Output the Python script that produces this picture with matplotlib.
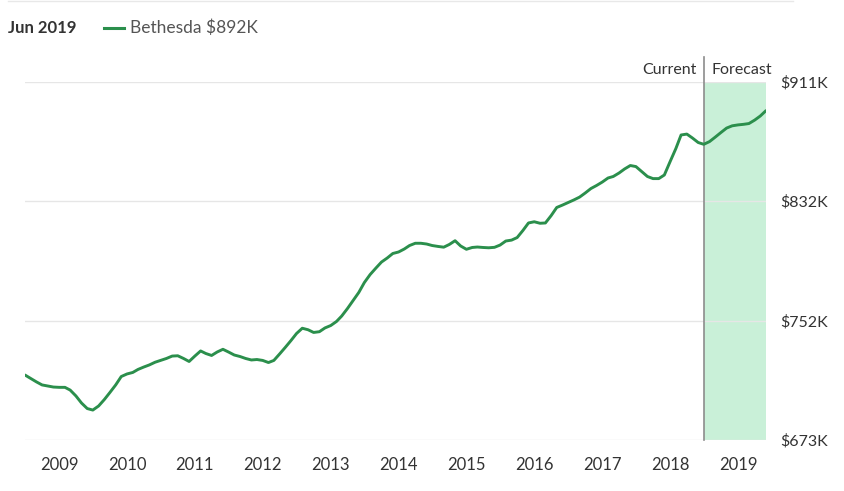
import matplotlib.pyplot as plt
import pandas as pd

# monthly home value index, Bethesda, Jul 2008 - Jun 2019 ($K)
values = [
    716.2, 713.9, 711.6, 709.6, 708.9, 708.2, 708.0, 708.0, 706.2, 702.3, 697.6, 693.9,
    692.9, 695.6, 699.9, 704.6, 709.6, 715.2, 716.9, 717.9, 719.9, 721.5, 722.9, 724.7,
    725.9, 727.2, 728.8, 729.0, 727.2, 725.2, 728.8, 732.2, 730.5, 729.2, 731.5, 733.3,
    731.5, 729.5, 728.5, 727.2, 726.2, 726.5, 725.9, 724.5, 725.9, 730.2, 734.5, 739.1,
    743.8, 747.3, 746.3, 744.5, 745.0, 747.5, 749.1, 751.8, 755.4, 760.4, 765.7, 771.1,
    777.7, 783.0, 787.3, 791.3, 794.0, 797.0, 798.0, 800.0, 802.3, 803.8, 803.8, 803.3,
    802.3, 801.7, 801.2, 803.0, 805.5, 802.0, 799.8, 801.0, 801.3, 801.0, 800.8, 801.1,
    802.6, 805.3, 805.9, 807.6, 812.3, 817.3, 818.1, 817.1, 817.3, 822.2, 827.6, 829.2,
    830.9, 832.6, 834.5, 837.2, 840.2, 842.2, 844.5, 847.2, 848.2, 850.5, 853.2, 855.5,
    854.8, 851.5, 848.2, 846.8, 846.8, 849.2, 858.1, 866.8, 875.8, 876.4, 873.8, 870.8,
    869.6, 871.4, 874.4, 877.4, 880.4, 881.9, 882.5, 882.9, 883.4, 885.7, 888.4, 892.0,
]
dates = pd.date_range("2008-07-01", periods=len(values), freq="MS")
current_date = pd.Timestamp("2018-07-01")
y_ticks = [673, 752, 832, 911]
y_labels = ["$673K", "$752K", "$832K", "$911K"]
years = list(range(2009, 2020))

line_green = "#2b8f4c"
fill_green = "#c9f0d8"
text_dark = "#333333"
font = ["Lato", "DejaVu Sans"]

fig = plt.figure(figsize=(8.44, 4.91), dpi=100)
ax = fig.add_axes([0.0296, 0.1039, 0.878, 0.729])

ax.axvspan(current_date, dates[-1], color=fill_green, lw=0, zorder=0)
for yt in y_ticks:
    ax.axhline(yt, color="#e6e6e6", lw=1, zorder=1)
ax.plot(dates, values, color=line_green, lw=2.1, zorder=3, solid_capstyle="round")
ax.axvline(current_date, ymin=0, ymax=1.07, color="#8c8c8c", lw=1.2, zorder=2, clip_on=False)

ax.set_xlim(dates[0], dates[-1])
ax.set_ylim(y_ticks[0], y_ticks[-1])
ax.yaxis.tick_right()
ax.set_yticks(y_ticks)
ax.set_yticklabels(y_labels, family=font, fontsize=11.5, color=text_dark)
ax.set_xticks([pd.Timestamp(f"{y}-01-01") for y in years])
ax.set_xticklabels([str(y) for y in years], family=font, fontsize=12, color=text_dark)
ax.tick_params(axis="both", length=0)
ax.tick_params(axis="y", pad=10)
ax.tick_params(axis="x", pad=12)
for s in ax.spines.values():
    s.set_visible(False)

# current / forecast labels
ax.text(current_date - pd.Timedelta(days=40), 1.035, "Current", transform=ax.get_xaxis_transform(),
        ha="right", va="center", family=font, fontsize=11.5, color=text_dark)
ax.text(current_date + pd.Timedelta(days=40), 1.035, "Forecast", transform=ax.get_xaxis_transform(),
        ha="left", va="center", family=font, fontsize=11.5, color=text_dark)

# header legend
fig.text(0.009, 0.943, "Jun 2019", family=font, fontsize=12, fontweight="bold",
         color=text_dark, ha="left", va="center")
fig.add_artist(plt.Line2D([0.123, 0.147], [0.943, 0.943], color=line_green, lw=2.2,
                          transform=fig.transFigure))
fig.text(0.154, 0.943, "Bethesda $892K", family=font, fontsize=12.5, color="#555555",
         ha="left", va="center")

# thin rule along the top edge
fig.add_artist(plt.Line2D([0.01, 0.94], [0.998, 0.998], color="#e8e8e8", lw=1,
                          transform=fig.transFigure))

fig.savefig("out.png", dpi=100)
